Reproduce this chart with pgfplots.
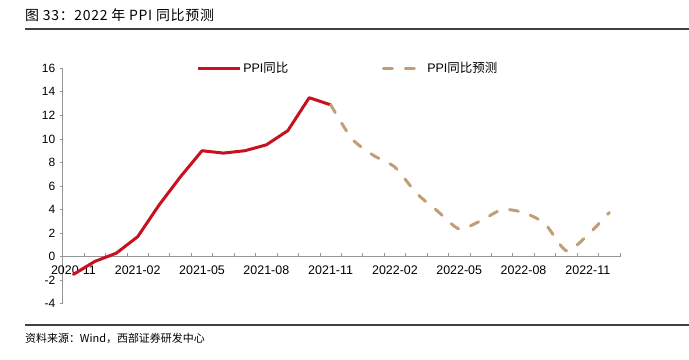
\documentclass[border=0pt]{standalone}
\usepackage{fontspec}
\setmainfont{Liberation Sans}
\newfontfamily\cjk{Noto Sans CJK SC}
\usepackage{pgfplots}
\pgfplotsset{compat=1.18}
\definecolor{ppired}{RGB}{200,16,30}
\definecolor{ppitan}{RGB}{193,158,116}
\definecolor{axgray}{RGB}{150,150,150}
\pgfplotsset{
  redleg/.style={legend image code/.code={\draw[##1, line cap=butt] (0bp,0bp) -- (42bp,0bp);}},
  tanleg/.style={legend image code/.code={\draw[##1, solid] (1.5bp,0bp) -- (10.5bp,0bp); \draw[##1, solid] (23.5bp,0bp) -- (32.5bp,0bp); \node[draw=none, fill=none, inner sep=0pt, minimum size=0pt] at (44bp,0bp) {};}},
}
\begin{document}
\begin{tikzpicture}[x=1bp,y=1bp]
\useasboundingbox (0,0) rectangle (689,359);
\node[anchor=base west, inner sep=0pt, font=\fontsize{14}{16}\selectfont\cjk\addfontfeature{LetterSpace=5}] at (25,339) {图 33：2022 年 PPI 同比预测};
\draw[line width=1.1bp, black!75] (25,330) -- (689,330);
\draw[line width=1.1bp, black!75] (25,34) -- (689,34);
\node[anchor=base west, inner sep=0pt, font=\fontsize{11}{13}\selectfont\cjk] at (25,17) {资料来源：Wind，西部证券研发中心};
\begin{axis}[
  at={(62.7bp,55.2bp)}, anchor=south west,
  width=557.3bp, height=235.5bp, scale only axis,
  xmin=-0.5, xmax=25.5, ymin=-4, ymax=16,
  axis x line=middle, axis y line=left,
  axis line style={-, draw=axgray, line width=0.8bp},
  hide obscured x ticks=false, hide obscured y ticks=false,
  ytick={-4,-2,...,16},
  xtick={0,3,...,24},
  xticklabels={2020-11,2021-02,2021-05,2021-08,2021-11,2022-02,2022-05,2022-08,2022-11},
  major x tick style={draw=none},
  minor xtick={-0.5,0.5,...,25.5},
  minor x tick style={draw=axgray, line width=0.8bp},
  minor tick length=4bp,
  xtick align=inside,
  ytick align=outside,
  major tick length=3bp,
  y tick style={draw=axgray, line width=0.8bp},
  tick label style={font=\fontsize{12}{14}\selectfont},
  xticklabel style={yshift=-6bp, font=\fontsize{12.5}{14}\selectfont},
  yticklabel style={xshift=-1bp},
  /pgf/number format/assume math mode=true,
  clip=false,
  legend columns=2,
  legend style={at={(rel axis cs:0.2404,1)}, anchor=west, draw=none, fill=none, inner sep=0pt,
    font=\fontsize{12.5}{14}\selectfont,
    nodes={inner sep=1.5bp},
    /tikz/every even column/.append style={column sep=92bp}},
]
\addplot[ppired, line width=3bp, line join=round, line cap=round, redleg] coordinates {
(0,-1.5)(1,-0.4)(2,0.3)(3,1.7)(4,4.4)(5,6.8)(6,9.0)(7,8.8)(8,9.0)(9,9.5)(10,10.7)(11,13.5)(12,12.9)
};
\addlegendentry{PPI{\cjk 同比}}
\addplot[ppitan, line width=3bp, line cap=round, dash pattern=on 9bp off 12.5bp, smooth, tension=0.4, tanleg] coordinates {
(12,12.9)(13,10.0)(14,8.6)(15,7.6)(16,5.4)(17,3.85)(18,2.35)(19,3.05)(20,4.0)(21,3.75)(22,2.8)(23,0.5)(24,1.85)(25,3.75)
};
\addlegendentry{PPI{\cjk 同比预测}}
\end{axis}
\end{tikzpicture}
\end{document}
